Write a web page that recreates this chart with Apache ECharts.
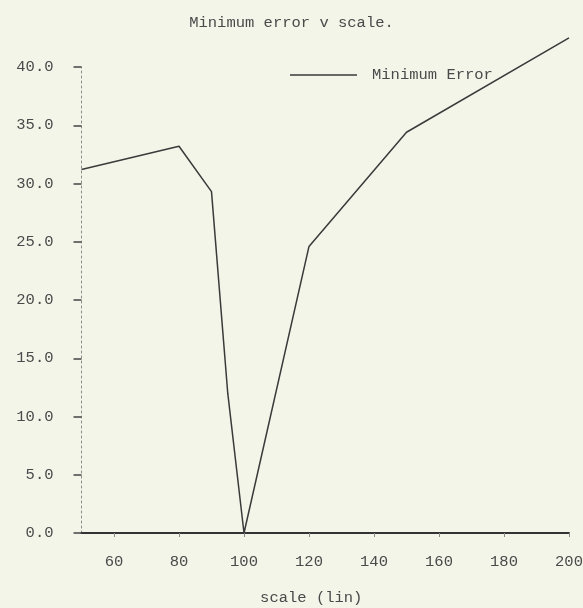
<!DOCTYPE html>
<html>
<head>
<meta charset="utf-8">
<script src="https://cdn.jsdelivr.net/npm/echarts@6/dist/echarts.min.js"></script>
<style>
html,body{margin:0;padding:0;background:#f3f5e9;}
#chart{width:583px;height:608px;}
</style>
</head>
<body>
<div id="chart"></div>
<script>
const titleText = 'Minimum error v scale.';
const seriesName = 'Minimum Error';
const xAxisName = 'scale (lin)';
const scaleValues = [50, 80, 90, 95, 100, 120, 150, 200];
const minError = [31.2, 33.2, 29.3, 12.0, 0.0, 24.6, 34.4, 42.5];
const xTickValues = [60, 80, 100, 120, 140, 160, 180, 200];
const yTickValues = [0, 5, 10, 15, 20, 25, 30, 35, 40];

const FONT = 'Liberation Mono';
const TXT = '#4a4a4a';
const LINE = '#3a3a3a';

const chart = echarts.init(document.getElementById('chart'));
chart.setOption({
  backgroundColor: '#f3f5e9',
  animation: false,
  title: {
    text: titleText,
    left: 'center',
    top: 10,
    textStyle: {fontFamily: FONT, fontSize: 15.5, fontWeight: 'normal', color: TXT}
  },
  legend: {
    data: [{name: seriesName, icon: 'rect'}],
    left: 285,
    top: 62,
    itemWidth: 67,
    itemHeight: 1.6,
    itemStyle: {color: LINE},
    textStyle: {fontFamily: FONT, fontSize: 15.5, color: TXT, padding: [0, 0, 0, 10]}
  },
  grid: {left: 81.5, right: 14, top: 67, bottom: 75, containLabel: false, outerBoundsMode: 'none'},
  xAxis: {
    type: 'value',
    min: 50,
    max: 200,
    name: xAxisName,
    nameLocation: 'middle',
    nameGap: 57,
    nameTextStyle: {fontFamily: FONT, fontSize: 15.5, color: TXT, padding: [0, 28, 0, 0]},
    axisLine: {lineStyle: {color: '#333', width: 2}},
    axisTick: {show: true, length: 4, customValues: xTickValues, lineStyle: {color: '#888', width: 1}},
    axisLabel: {customValues: xTickValues, margin: 21, fontFamily: FONT, fontSize: 15.5, color: TXT},
    splitLine: {show: false}
  },
  yAxis: {
    type: 'value',
    min: 0,
    max: 40,
    interval: 5,
    axisLine: {show: true, lineStyle: {color: '#8a8a8a', width: 1, type: [2, 3]}},
    axisTick: {show: true, length: 8, customValues: yTickValues, lineStyle: {color: '#444', width: 1.5}},
    axisLabel: {
      customValues: yTickValues,
      margin: 28,
      fontFamily: FONT,
      fontSize: 15.5,
      color: TXT,
      formatter: v => v.toFixed(1)
    },
    splitLine: {show: false}
  },
  series: [{
    name: seriesName,
    type: 'line',
    data: scaleValues.map((x, i) => [x, minError[i]]),
    symbol: 'none',
    clip: false,
    itemStyle: {color: LINE},
    lineStyle: {color: LINE, width: 1.5}
  }]
});
</script>
</body>
</html>
